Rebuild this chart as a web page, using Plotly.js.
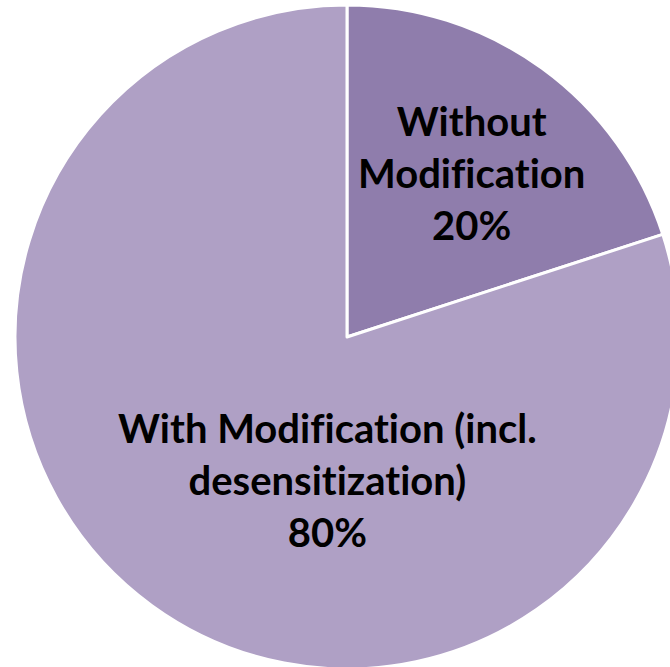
<!DOCTYPE html>
<html><head><meta charset="utf-8">
<script src="https://cdn.plot.ly/plotly-3.0.1.min.js"></script>
<style>html,body{margin:0;padding:0;overflow:hidden;background:#fff;width:670px;height:667px}
svg text{font-variant-ligatures:none !important;font-feature-settings:"liga" 0, "clig" 0 !important}</style>
</head><body>
<div id="chart" style="width:694px;height:700px"></div>
<script>
const categories = ["Without Modification", "With Modification (incl. desensitization)"];
const displayLines = [["Without", "Modification"], ["With Modification (incl.", "desensitization)"]];
const values = [20, 80];
const colors = ["#8f7dac", "#afa0c5"];
const labelPos = [[0.688, 0.747], [0.47, 0.285]];

const total = values.reduce((a, b) => a + b, 0);
const annotations = categories.map((c, i) => ({
  xref: 'paper', yref: 'paper', x: labelPos[i][0], y: labelPos[i][1],
  xanchor: 'center', yanchor: 'middle', showarrow: false,
  text: displayLines[i].concat([Math.round(values[i] / total * 100) + '%']).join('<br>'),
  font: {family: 'Lato', size: 40, color: '#000', weight: 'bold'}
}));

Plotly.newPlot('chart', [{
  type: 'pie', labels: categories, values: values, sort: false, direction: 'clockwise', rotation: 0,
  marker: {colors: colors, line: {color: '#ffffff', width: 3}},
  textinfo: 'none', hoverinfo: 'label+percent', showlegend: false
}], {
  margin: {l: 15, r: 15, t: 5, b: 31},
  paper_bgcolor: '#fff', showlegend: false, annotations: annotations
}, {staticPlot: true, displayModeBar: false});
</script>
</body></html>
